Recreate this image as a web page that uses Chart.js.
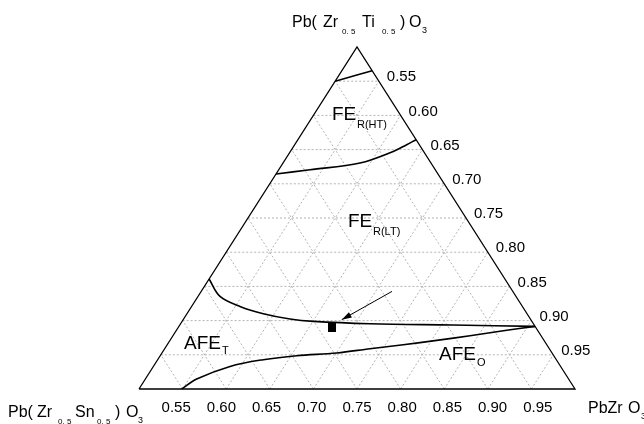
<!DOCTYPE html>
<html>
<head>
<meta charset="utf-8">
<script src="https://cdn.jsdelivr.net/npm/chart.js@4.4.0/dist/chart.umd.min.js"></script>
<style>
    body { margin: 0; background: #fff; }
    #contenedor { width: 644px; height: 424px; position: relative; }
</style>
</head>
<body>
<div id="contenedor"><canvas id="graficoTernario"></canvas></div>
<script>
// composiciones como [t, z]
// t = fraccion de Pb(Zr0.5Ti0.5)O3 (vertice superior), z = fraccion de PbZrO3 (vertice derecho)
const tickValues = [0.55, 0.60, 0.65, 0.70, 0.75, 0.80, 0.85, 0.90, 0.95];
const tickLabels = ['0.55', '0.60', '0.65', '0.70', '0.75', '0.80', '0.85', '0.90', '0.95'];
const gridSteps = [0.1, 0.2, 0.3, 0.4, 0.5, 0.6, 0.7, 0.8, 0.9];

const limiteSuperior = [[0.900, 0.000], [0.9175, 0.039], [0.9307, 0.0693]];
const limiteHT_LT = [[0.6287, 0.000], [0.6412, 0.0716], [0.6608, 0.1765], [0.6947, 0.2359], [0.7143, 0.2568], [0.729, 0.271]];
const limiteFE_AFE = [[0.3216, 0.000], [0.2708, 0.0504], [0.2415, 0.1109], [0.2202, 0.175], [0.2047, 0.244],
                      [0.1977, 0.301], [0.1909, 0.4343], [0.1871, 0.6266], [0.183, 0.817]];
const limiteAFE_T_O = [[0.000, 0.0979], [0.0292, 0.1177], [0.0661, 0.1757], [0.0857, 0.2423], [0.0974, 0.313],
                       [0.1053, 0.4008], [0.1178, 0.4709], [0.1295, 0.5414], [0.1421, 0.6117], [0.1558, 0.6813],
                       [0.1705, 0.7504], [0.183, 0.817]];
const muestra = [[0.1807, 0.3523]];
const flecha = [[0.2854, 0.4376], [0.2026, 0.3636]];

const fuente = '"Liberation Sans", Arial, sans-serif';

function aXY(p){
    return { x: p[1] + p[0] / 2, y: p[0] };
}

function linea(puntos, extra){
    return Object.assign({
        data: puntos.map(aXY),
        showLine: true,
        borderColor: '#000',
        borderWidth: 1.6,
        pointRadius: 0,
        fill: false,
        clip: false,
        tension: 0.35
    }, extra || {});
}

let datasets = [];

// bordes del triangulo
datasets.push(linea([[0, 0], [0, 1], [1, 0], [0, 0]], { borderWidth: 1.3, tension: 0, order: 1 }));

// curvas de fase
datasets.push(linea(limiteSuperior, { order: 2 }));
datasets.push(linea(limiteHT_LT, { order: 2 }));
datasets.push(linea(limiteFE_AFE, { order: 2 }));
datasets.push(linea(limiteAFE_T_O, { order: 2 }));
datasets.push(linea(flecha, { borderWidth: 1, tension: 0, order: 2 }));

// marcador de la muestra
const cuadro = document.createElement('canvas');
cuadro.width = 8;
cuadro.height = 10;
const cctx = cuadro.getContext('2d');
cctx.fillStyle = '#000';
cctx.fillRect(0, 0, 8, 10);
datasets.push({
    data: muestra.map(aXY),
    showLine: false,
    pointStyle: cuadro,
    pointRadius: 5,
    clip: false,
    order: 0
});

// rejilla punteada
gridSteps.forEach(function(s){
    const estilo = { borderColor: '#b4b4b4', borderWidth: 1, borderDash: [2, 2], tension: 0, order: 10 };
    datasets.push(linea([[s, 0], [s, 1 - s]], estilo));
    datasets.push(linea([[0, s], [1 - s, s]], estilo));
    datasets.push(linea([[0, 1 - s], [1 - s, 0]], estilo));
});

function rico(ctx, x0, y0, piezas){
    piezas.forEach(function(p){
        ctx.font = p[3] + 'px ' + fuente;
        ctx.fillText(p[0], x0 + p[1], y0 + p[2]);
    });
}

const textos = {
    id: 'textos',
    afterDatasetsDraw(chart){
        const ctx = chart.ctx;
        const sx = chart.scales.x, sy = chart.scales.y;
        const px = p => sx.getPixelForValue(p[1] + p[0] / 2);
        const py = p => sy.getPixelForValue(p[0]);

        ctx.save();
        ctx.fillStyle = '#000';

        // punta de flecha
        const x1 = px(flecha[0]), y1 = py(flecha[0]);
        const x2 = px(flecha[1]), y2 = py(flecha[1]);
        const ang = Math.atan2(y2 - y1, x2 - x1);
        ctx.beginPath();
        ctx.moveTo(x2, y2);
        ctx.lineTo(x2 - 10 * Math.cos(ang) + 3 * Math.sin(ang), y2 - 10 * Math.sin(ang) - 3 * Math.cos(ang));
        ctx.lineTo(x2 - 10 * Math.cos(ang) - 3 * Math.sin(ang), y2 - 10 * Math.sin(ang) + 3 * Math.cos(ang));
        ctx.closePath();
        ctx.fill();

        // etiquetas del eje derecho
        ctx.font = '15px ' + fuente;
        ctx.textBaseline = 'middle';
        ctx.textAlign = 'left';
        tickValues.forEach(function(v, i){
            const t = 2 * (1 - v);
            const p = [t, 1 - t];
            ctx.fillText(tickLabels[i], px(p) + 8, py(p) - 4);
        });

        // etiquetas del eje inferior
        ctx.textAlign = 'center';
        tickValues.forEach(function(v, i){
            const xv = 2 * (v - 0.5);
            ctx.fillText(tickLabels[i], sx.getPixelForValue(xv) + (xv - 0.5) * 16, 407.5);
        });

        // vertices
        ctx.textAlign = 'left';
        ctx.textBaseline = 'alphabetic';
        rico(ctx, 292, 27, [['Pb(', 0, 0, 16], ['Zr', 31, 0, 16], ['0. 5', 50, 7, 8], ['Ti', 70, 0, 16],
                            ['0. 5', 90, 7, 8], [')', 108, 0, 16], ['O', 117, 0, 16], ['3', 130, 6, 9]]);
        rico(ctx, 8, 417, [['Pb(', 0, 0, 16], ['Zr', 29, 0, 16], ['0. 5', 50, 7, 8], ['Sn', 67, 0, 16],
                           ['0. 5', 89, 7, 8], [')', 107, 0, 16], ['O', 118, 0, 16], ['3', 130, 6, 9]]);
        rico(ctx, 588, 413, [['PbZr', 0, 0, 16], ['O', 40, 0, 16], ['3', 53, 6, 9]]);

        // regiones
        rico(ctx, 332, 120, [['FE', 0, 0, 19], ['R(HT)', 25, 8, 11]]);
        rico(ctx, 348, 227, [['FE', 0, 0, 19], ['R(LT)', 25, 8, 11]]);
        rico(ctx, 184, 349, [['AFE', 0, 0, 19], ['T', 38, 5, 11]]);
        rico(ctx, 439, 360, [['AFE', 0, 0, 19], ['O', 38, 6, 11]]);

        ctx.restore();
    }
};

new Chart(document.getElementById('graficoTernario'), {
    type: 'scatter',
    data: { datasets: datasets },
    plugins: [textos],
    options: {
        responsive: true,
        maintainAspectRatio: false,
        animation: false,
        layout: { padding: { left: 139, right: 69, top: 47, bottom: 35 } },
        scales: {
            x: { type: 'linear', min: 0, max: 1, display: false },
            y: { type: 'linear', min: 0, max: 1, display: false }
        },
        plugins: {
            legend: { display: false },
            tooltip: { enabled: false }
        }
    }
});
</script>
</body>
</html>
